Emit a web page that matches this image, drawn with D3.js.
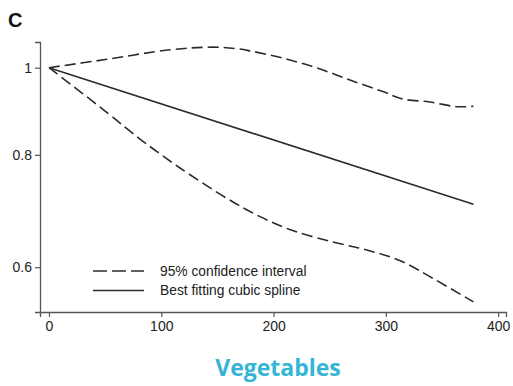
<!DOCTYPE html>
<html>
<head>
<meta charset="utf-8">
<script src="https://cdn.jsdelivr.net/npm/d3@7"></script>
<style>
  html, body { margin: 0; padding: 0; background: #fff; }
  svg { display: block; }
</style>
</head>
<body>
<svg id="chart" width="513" height="386"></svg>
<script>
// Exposure (x) and relative risk (log scale) for the spline and its 95% CI
const xTicks = [0, 100, 200, 300, 400];
const yTicks = [0.6, 0.8, 1];

const splineX = [0, 378];
const splineY = [1.0, 0.705];

const upperX = [0, 50, 108, 146, 167, 179, 208, 239, 268, 298, 315, 339, 363, 378];
const upperY = [1.0, 1.021, 1.047, 1.054, 1.050, 1.044, 1.025, 0.999, 0.969, 0.940, 0.923, 0.916, 0.905, 0.906];

const lowerX = [0, 52, 81, 99, 117, 159, 188, 217, 253, 283, 313, 342, 378];
const lowerY = [1.0, 0.891, 0.833, 0.802, 0.773, 0.715, 0.683, 0.659, 0.640, 0.627, 0.610, 0.583, 0.549];

const legendLabels = ["95% confidence interval", "Best fitting cubic spline"];
const panelLabel = "C";
const title = "Vegetables";

const svg = d3.select("#chart");
const ink = "#2b2b2b";
const axisInk = "#555";

const x = d3.scaleLinear().domain([-8, 407]).range([40, 506]);
const y = d3.scaleLog().domain([0.535, 1.068]).range([312, 42]);

// Axes
const xAxis = svg.append("g")
  .attr("transform", "translate(0,312)")
  .call(d3.axisBottom(x).tickValues(xTicks).tickSizeOuter(0).tickSize(5).tickPadding(4).tickFormat(d3.format("d")));
const yAxis = svg.append("g")
  .attr("transform", "translate(40,0)")
  .call(d3.axisLeft(y).tickValues(yTicks).tickSizeOuter(0).tickSize(5).tickPadding(3).tickFormat(d3.format("~g")));

[xAxis, yAxis].forEach(g => {
  g.selectAll("path.domain").attr("stroke", axisInk).attr("stroke-width", 1.3);
  g.selectAll(".tick line").attr("stroke", axisInk).attr("stroke-width", 1.2);
  g.selectAll(".tick text")
    .attr("fill", "#222")
    .style("font-family", "'Liberation Sans', Arial, sans-serif")
    .style("font-size", "14px");
});

// Curves
const line = d3.line()
  .x(d => x(d[0]))
  .y(d => y(d[1]))
  .curve(d3.curveCatmullRom.alpha(0.5));

const zip = (xs, ys) => xs.map((v, i) => [v, ys[i]]);

svg.append("path")
  .datum(zip(upperX, upperY))
  .attr("d", line)
  .attr("fill", "none").attr("stroke", ink).attr("stroke-width", 1.6)
  .attr("stroke-dasharray", "11,5");

svg.append("path")
  .datum(zip(lowerX, lowerY))
  .attr("d", line)
  .attr("fill", "none").attr("stroke", ink).attr("stroke-width", 1.6)
  .attr("stroke-dasharray", "11,5");

svg.append("path")
  .datum(zip(splineX, splineY))
  .attr("d", line)
  .attr("fill", "none").attr("stroke", ink).attr("stroke-width", 1.6);

// Legend
const legend = svg.append("g").attr("transform", "translate(93,271)");
legendLabels.forEach((label, i) => {
  const row = legend.append("g").attr("transform", `translate(0,${i * 19.5})`);
  row.append("line")
    .attr("x1", 0).attr("x2", 51).attr("y1", 0).attr("y2", 0)
    .attr("stroke", ink).attr("stroke-width", 1.5)
    .attr("stroke-dasharray", i === 0 ? "14,5" : null);
  row.append("text")
    .attr("x", 67).attr("y", 0).attr("dy", "0.35em")
    .attr("fill", "#222")
    .style("font-family", "'Liberation Sans', Arial, sans-serif")
    .style("font-size", "13.8px")
    .text(label);
});

// Panel letter
svg.append("text")
  .attr("x", 8).attr("y", 26.5)
  .attr("fill", "#111")
  .style("font-family", "'Liberation Sans', Arial, sans-serif")
  .style("font-weight", "bold")
  .style("font-size", "20px")
  .text(panelLabel);

// Title
svg.append("text")
  .attr("x", 278).attr("y", 376)
  .attr("text-anchor", "middle")
  .attr("fill", "#35b5d5")
  .style("font-family", "'Open Sans', sans-serif")
  .style("font-weight", "bold")
  .style("font-size", "23px")
  .text(title);
</script>
</body>
</html>
